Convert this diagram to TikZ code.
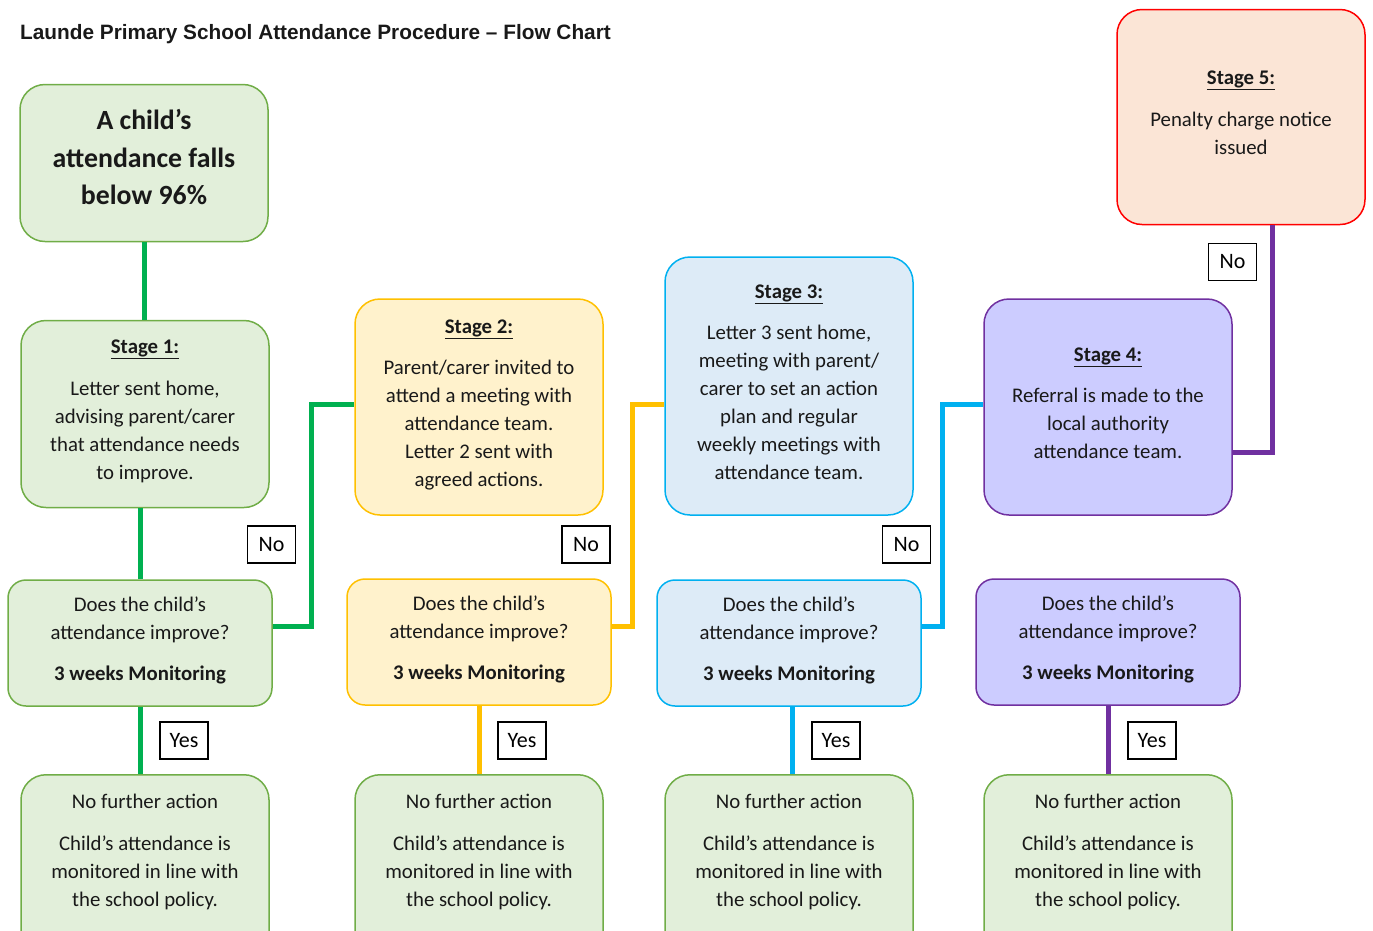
\documentclass[tikz,border=0pt]{standalone}
\usepackage{fontspec}
\setmainfont{Carlito}
\newfontfamily\headfont{Liberation Sans}
\definecolor{grfill}{HTML}{E2EFDA}
\definecolor{grdraw}{HTML}{70AD47}
\definecolor{grline}{HTML}{00B050}
\definecolor{yefill}{HTML}{FFF2CC}
\definecolor{yedraw}{HTML}{FFC000}
\definecolor{blfill}{HTML}{DDEBF7}
\definecolor{bldraw}{HTML}{00B0F0}
\definecolor{pufill}{HTML}{CCCCFF}
\definecolor{pudraw}{HTML}{7030A0}
\definecolor{pefill}{HTML}{FBE5D6}
\definecolor{pedraw}{HTML}{FF0000}
\newcommand{\nofurther}{\parbox[c][200pt][t]{240pt}{\centering No further action\\[14pt]Child’s attendance is\\monitored in line with\\the school policy.}}
\newcommand{\askimprove}{Does the child’s\\attendance improve?\\[13pt]\textbf{3 weeks Monitoring}\strut}
\begin{document}
\begin{tikzpicture}[x=1pt,y=-1pt,inner sep=0pt,
  font=\fontsize{20.8}{28}\selectfont,
  box/.style={draw, line width=1.5pt, rounded corners=25pt, align=center, minimum width=248pt, text=black!90},
  stagebox/.style={box, minimum height=#1},
  askbox/.style={box, rounded corners=18pt, minimum width=264pt, minimum height=126pt},
  resbox/.style={box, fill=grfill, draw=grdraw, anchor=north, inner ysep=19pt},
  tag/.style={draw=black, line width=1.5pt, fill=white, minimum width=48pt, minimum height=37pt, font=\fontsize{22}{26}\selectfont},
  link/.style={line width=5pt}]

\clip (0,0) rectangle (1373,930);

\node[anchor=west, text=black!90, font=\headfont\bfseries\fontsize{20.8}{24}\selectfont](title) at (20,34) {Launde Primary School Attendance Procedure – Flow Chart};

\node[box, fill=grfill, draw=grdraw, minimum height=157pt, font=\fontsize{27.8}{37.5}\selectfont\bfseries](start) at (144,163) {A child’s\\attendance falls\\below 96\%\strut};

% stages
\node[stagebox=187, fill=grfill, draw=grdraw](s1) at (145,414) {\underline{\textbf{Stage 1:}}\\[14pt]Letter sent home,\\advising parent/carer\\that attendance needs\\to improve.\strut};
\node[stagebox=216, fill=yefill, draw=yedraw](s2) at (479,407) {\underline{\textbf{Stage 2:}}\\[13pt]Parent/carer invited to\\attend a meeting with\\attendance team.\\Letter 2 sent with\\agreed actions.\strut};
\node[stagebox=258, fill=blfill, draw=bldraw](s3) at (789,386) {\underline{\textbf{Stage 3:}}\\[13pt]Letter 3 sent home,\\meeting with parent/\\carer to set an action\\plan and regular\\weekly meetings with\\attendance team.\strut};
\node[stagebox=216, fill=pufill, draw=pudraw](s4) at (1108,407) {\underline{\textbf{Stage 4:}}\\[13pt]Referral is made to the\\local authority\\attendance team.\strut};
\node[stagebox=215, fill=pefill, draw=pedraw](s5) at (1241,117) {\underline{\textbf{Stage 5:}}\\[14pt]Penalty charge notice\\issued\strut};

% questions
\node[askbox, fill=grfill, draw=grdraw](d1) at (140,643) {\askimprove};
\node[askbox, fill=yefill, draw=yedraw](d2) at (479,642) {\askimprove};
\node[askbox, fill=blfill, draw=bldraw](d3) at (789,643) {\askimprove};
\node[askbox, fill=pufill, draw=pudraw](d4) at (1108,642) {\askimprove};

% no further action
\node[resbox](r1) at (145,774) {\nofurther};
\node[resbox](r2) at (479,774) {\nofurther};
\node[resbox](r3) at (789,774) {\nofurther};
\node[resbox](r4) at (1108,774) {\nofurther};

\coordinate(k1) at (311,626);
\coordinate(j1) at (311,404);
\coordinate(k2) at (632,626);
\coordinate(j2) at (632,404);
\coordinate(k3) at (942,626);
\coordinate(j3) at (942,404);
\coordinate(k4) at (1272,452);

\draw[link, grline] (start.south) -- (start.south |- s1.north);
\draw[link, grline] (s1.south -| d1.north) -- (d1.north);
\draw[link, grline] (d1.south) -- (d1.south |- r1.north);
\draw[link, grline] (k1 -| d1.east) -- (k1) -- (j1) -- (j1 -| s2.west);

\draw[link, yedraw] (d2.south) -- (d2.south |- r2.north);
\draw[link, yedraw] (k2 -| d2.east) -- (k2) -- (j2) -- (j2 -| s3.west);

\draw[link, bldraw] ([xshift=3pt]d3.south) -- ([xshift=3pt]d3.south |- r3.north);
\draw[link, bldraw] (k3 -| d3.east) -- (k3) -- (j3) -- (j3 -| s4.west);

\draw[link, pudraw] (d4.south) -- (d4.south |- r4.north);
\draw[link, pudraw] (k4 -| s4.east) -- (k4) -- (k4 |- s5.south);

% labels
\node[tag](n1) at (271.5,544.5) {No};
\node[tag](n2) at (586,544.5) {No};
\node[tag](n3) at (906.5,544.5) {No};
\node[tag](n4) at (1232.5,262) {No};
\node[tag](y1) at (184,740.5) {Yes};
\node[tag](y2) at (522,740.5) {Yes};
\node[tag](y3) at (836,740.5) {Yes};
\node[tag](y4) at (1152,740.5) {Yes};

\end{tikzpicture}
\end{document}
